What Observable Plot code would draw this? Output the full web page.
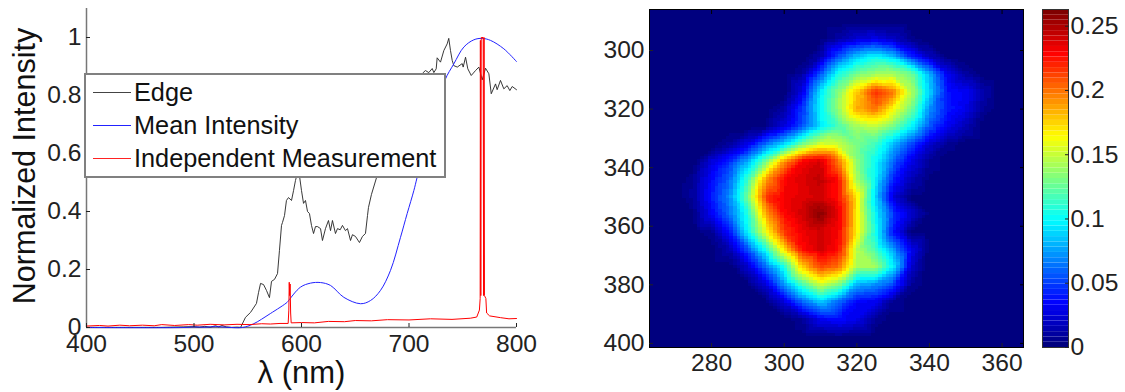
<!DOCTYPE html>
<html><head><meta charset="utf-8">
<script src="https://cdn.jsdelivr.net/npm/d3@7"></script>
<script src="https://cdn.jsdelivr.net/npm/@observablehq/plot@0.6"></script>
<style>
html,body{margin:0;padding:0;background:#fff;width:1125px;height:392px;overflow:hidden}
#wrap{position:relative;width:1125px;height:392px;font-family:"Liberation Sans",Arial,sans-serif}
#wrap>div.p{position:absolute;top:0}
#legend{position:absolute;left:84px;top:73px;width:358px;height:101px;background:#fff;border:2px solid #808080;box-sizing:content-box;color:#111;font-size:25.3px}
#legend div{position:absolute;left:48px;white-space:nowrap;line-height:28px}
#legend i{position:absolute;left:7px;width:38px;height:1px;display:block}
</style></head><body>
<div id="wrap"><div class="p" id="a"></div><div class="p" id="b"></div><div class="p" id="c"></div>
<div id="legend">
<i style="top:17px;background:#444"></i><div style="top:3px">Edge</div>
<i style="top:50px;background:#2222ff"></i><div style="top:36px">Mean Intensity</div>
<i style="top:83px;background:#f22"></i><div style="top:69px">Independent Measurement</div>
</div></div>
<script>
const edgeL=[400,470,490,500,505,510,515,520,523,526,530,535,540,543.3,547.9,552.6,558.1,560,561.9,564.7,567.4,570.2,572.1,574.9,577.7,579.5,581.4,582.3,584.2,586,587.9,590.7,592.6,594.4,596.3,598.1,600,601.9,603.7,605.6,607.4,609.3,611.2,613,614.9,617.7,619.5,622.3,625.1,627,628.8,631.6,633.5,636,638.1,640.9,642.8,645.6,647.4,650.2,653.9,656.7,659.5,661.4,662.3,665.1,669.8,680,695,705,713.2,715.3,718.4,721.6,723.1,725.3,726.2,729.3,732.4,735.5,737,738.6,740.2,741.7,744.9,749.5,750.4,752.6,754.7,757.9,761.9,765,768.1,771.2,774.3,776.5,780.5,782,785.1,788.2,791.3,793.8,796,800];
const edgeV=[0,0,0.002,0.003,0.001,0.004,0.001,0.006,0.002,0.007,0.002,0,0.001,0,0.035,0.052,0.083,0.12,0.152,0.148,0.128,0.103,0.159,0.166,0.186,0.266,0.352,0.362,0.386,0.438,0.448,0.438,0.472,0.507,0.534,0.524,0.472,0.428,0.438,0.4,0.393,0.352,0.324,0.348,0.348,0.341,0.3,0.341,0.369,0.334,0.369,0.324,0.341,0.337,0.352,0.334,0.341,0.3,0.32,0.314,0.293,0.314,0.324,0.386,0.414,0.459,0.517,0.62,0.74,0.83,0.879,0.886,0.879,0.893,0.879,0.892,0.93,0.915,0.955,0.978,0.997,0.955,0.921,0.903,0.898,0.91,0.898,0.932,0.892,0.869,0.886,0.898,0.854,0.894,0.875,0.806,0.84,0.82,0.852,0.823,0.834,0.817,0.831,0.82];
const meanL=[400,490,500,510,520,530,545,555,571,586.7,588,599,608.4,617.7,627,639.4,654.9,664.2,673.5,682.8,692.1,698.3,704.5,707.6,720,733.3,741.7,751,760.3,768,775.8,788.2,800];
const meanV=[0,0,0.002,0.001,0.003,0.001,0,0.012,0.048,0.087,0.093,0.139,0.153,0.155,0.145,0.104,0.082,0.093,0.128,0.197,0.311,0.393,0.472,0.518,0.69,0.852,0.909,0.967,0.992,0.997,0.99,0.961,0.917];
const indepL=[400,412,420,431,440,452,463,470,482,495,503,515,528,540,552,563,571,580,587.6,588.2,588.6,589,589.4,589.9,590.4,600,612,625,640,650,665,680,700,720,740,757,763,765.5,766.2,766.4,766.8,767.2,769,769.4,769.8,770.2,771.5,772.2,775,785,793,800];
const indepV=[0.005,0.007,0.005,0.008,0.006,0.008,0.006,0.01,0.007,0.01,0.008,0.011,0.009,0.011,0.01,0.013,0.012,0.014,0.014,0.06,0.156,0.11,0.15,0.05,0.016,0.017,0.016,0.021,0.02,0.024,0.023,0.027,0.026,0.03,0.028,0.032,0.036,0.06,0.1,0.99,0.11,1,1,0.11,1,0.11,0.1,0.05,0.04,0.034,0.03,0.031];
const heatX=[265,270,275,280,285,290,295,300,305,310,315,320,325,330,335,340,345,350,355,360,365];
const heatY=[290,296,302,308,314,320,326,332,338,344,350,356,362,368,374,380,386,392,398];
const heatRows=[
[0,0,0,0,0,0,0,0,0,0,0,0,0,0,0,0,0,0,0,0,0],
[0,0,0,0,0,0,0,0,0,0,12,22,28,20,5,0,0,0,0,0,0],
[0,0,0,0,0,0,0,0,0,14,55,85,100,85,45,18,3,0,0,0,0],
[0,0,0,0,0,0,0,0,10,55,105,128,138,142,128,80,30,10,0,0,0],
[0,0,0,0,0,0,0,0,28,95,135,178,218,198,145,88,38,32,12,0,0],
[0,0,0,0,0,0,0,12,48,100,138,185,200,165,130,72,40,30,8,0,0],
[0,0,0,0,0,0,5,25,55,95,118,140,148,130,98,55,30,15,0,0,0],
[0,0,0,0,10,30,65,92,130,155,150,130,115,82,50,22,6,0,0,0,0],
[0,0,0,25,45,80,130,190,230,240,200,135,102,60,28,8,0,0,0,0,0],
[0,0,8,35,60,115,190,228,238,245,225,142,98,42,15,3,0,0,0,0,0],
[0,0,10,40,70,130,215,232,236,240,225,170,90,25,3,0,0,0,0,0,0],
[0,0,4,32,62,108,185,228,240,258,235,168,100,48,22,3,0,0,0,0,0],
[0,0,0,8,38,100,160,215,232,240,230,168,105,38,3,0,0,0,0,0,0],
[0,0,0,0,15,55,105,170,226,240,226,145,118,75,30,2,0,0,0,4,0],
[0,0,0,0,0,22,62,105,176,212,200,140,140,98,22,0,0,0,0,0,0],
[0,0,0,0,0,3,25,72,115,150,130,78,70,50,8,0,0,0,0,0,0],
[0,0,0,0,0,0,2,25,60,85,60,34,30,8,0,0,0,0,0,0,0],
[0,0,0,0,0,0,0,0,8,30,35,28,8,0,0,0,0,0,0,0,0],
[0,0,0,0,0,0,0,0,0,0,3,0,0,0,0,0,0,0,0,0,0]];
const jetStops=["#00007f","#0000ff","#007fff","#00ffff","#7fff7f","#ffff00","#ff7f00","#ff0000","#7f0000"];
const lineTicksX=[400,500,600,700,800], lineTicksY=[0,0.2,0.4,0.6,0.8,1];
const heatTicksX=[280,300,320,340,360], heatTicksY=[300,320,340,360,380,400];
const barTicks=[0,0.05,0.1,0.15,0.2,0.25];
const vMax=0.263, LEVELS=64;

const jetRaw=d3.piecewise(d3.interpolateRgb,jetStops);
const jet=t=>jetRaw(Math.min(LEVELS-1,Math.floor(t*LEVELS))/(LEVELS-1));
const colorScale={type:"linear",domain:[0,vMax],interpolate:jet};
const font={fontFamily:"Liberation Sans, Arial, sans-serif",fontSize:"24.6px",background:"transparent"};
const ink="#222";
const noText=()=>"";
const tb=(L,V)=>L.map((l,i)=>({l,v:V[i]}));

document.getElementById("a").append(Plot.plot({
 width:560,height:392,marginLeft:86,marginRight:44,marginTop:8,marginBottom:65,style:font,
 x:{domain:[400,800]},y:{domain:[0,1.1]},
 marks:[
  Plot.ruleX([400],{stroke:"#777",strokeWidth:1.5}),
  Plot.ruleY([0],{stroke:"#777",strokeWidth:1.5}),
  Plot.lineY(tb(edgeL,edgeV),{x:"l",y:"v",stroke:"#222",strokeWidth:0.9}),
  Plot.lineY(tb(meanL,meanV),{x:"l",y:"v",stroke:"#2222ff",strokeWidth:1,curve:"catmull-rom"}),
  Plot.lineY(tb(indepL,indepV),{x:"l",y:"v",stroke:"#ff0000",strokeWidth:1}),
  Plot.axisX(lineTicksX,{anchor:"bottom",label:null,tickSize:-4,tickPadding:11,color:ink,tickFormat:d=>String(d)}),
  Plot.axisY(lineTicksY,{anchor:"left",label:null,tickSize:-4,tickPadding:9,color:ink,tickFormat:d=>String(d)}),
  Plot.text(["λ (nm)"],{frameAnchor:"bottom",dy:55,fontSize:31,fill:"#111"}),
  Plot.text(["Normalized Intensity"],{frameAnchor:"left",textAnchor:"middle",dx:-61,dy:-2,rotate:-90,fontSize:30.5,fill:"#111"})
 ]}));

const cells=heatY.flatMap((y,r)=>heatX.map((x,c)=>({x,y,v:heatRows[r][c]/1000})));
document.getElementById("b").style.left="600px";
document.getElementById("b").append(Plot.plot({
 width:525,height:392,marginLeft:49,marginRight:102,marginTop:9,marginBottom:45,style:font,
 x:{domain:[262.9,365.9]},y:{domain:[286,401.4],reverse:true},color:colorScale,
 marks:[
  Plot.raster(cells,{x:"x",y:"y",fill:"v",interpolate:"barycentric",width:103,height:115,imageRendering:"pixelated"}),
  Plot.frame({stroke:"#000",strokeWidth:1}),
  Plot.axisX(heatTicksX,{anchor:"bottom",label:null,tickSize:-4,tickPadding:10,color:ink,tickFormat:d=>String(d)}),
  Plot.axisX(heatTicksX,{anchor:"top",label:null,tickSize:-4,tickFormat:noText,color:"#000"}),
  Plot.axisY(heatTicksY,{anchor:"left",label:null,tickSize:-4,tickPadding:9,color:ink,tickFormat:d=>String(d)}),
  Plot.axisY(heatTicksY,{anchor:"right",label:null,tickSize:-4,tickFormat:noText,color:"#000"})
 ]}));

const step=vMax/LEVELS, levels=d3.range(LEVELS).map(i=>i*step);
document.getElementById("c").style.left="1042px";
document.getElementById("c").append(Plot.plot({
 width:83,height:392,marginLeft:0,marginRight:57,marginTop:9,marginBottom:45,style:font,
 x:{domain:[0,1],axis:null},y:{domain:[0,vMax]},color:colorScale,
 marks:[
  Plot.rect(levels,{x1:0,x2:1,y1:d=>d,y2:d=>d+step,fill:d=>d+step/2}),
  Plot.frame({stroke:"#333",strokeWidth:1}),
  Plot.axisY(barTicks,{anchor:"right",label:null,tickSize:-4,tickPadding:6,color:ink,tickFormat:d=>String(d)})
 ]}));
</script></body></html>
